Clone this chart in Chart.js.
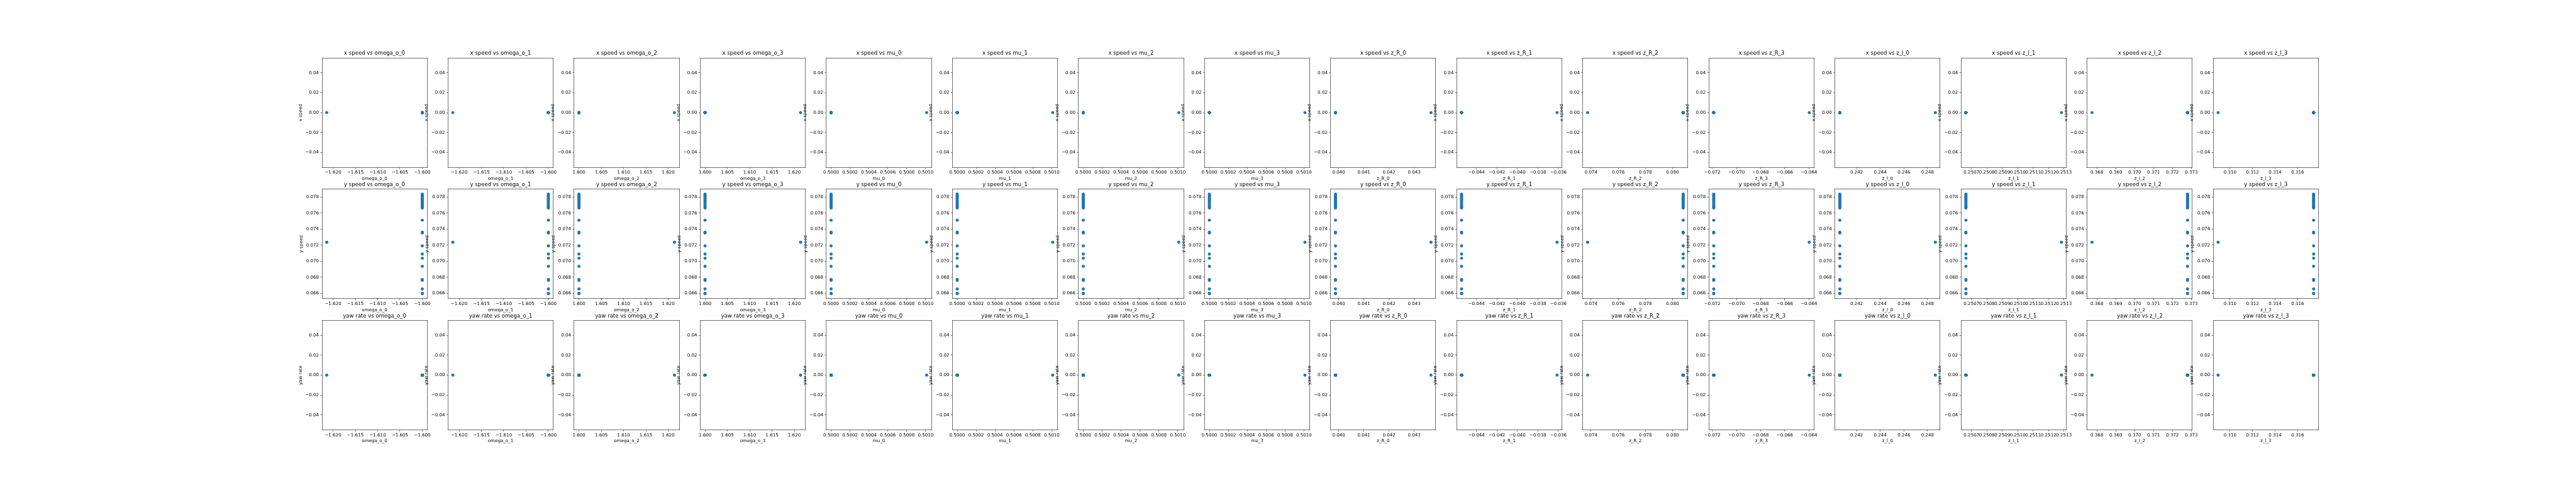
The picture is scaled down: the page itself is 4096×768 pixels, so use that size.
<!DOCTYPE html>
<html>
<head>
<meta charset="utf-8">
<script src="https://cdn.jsdelivr.net/npm/chart.js@4.4.1/dist/chart.umd.min.js"></script>
<style>
html, body { margin: 0; padding: 0; background: #ffffff; }
#wrap { position: relative; width: 4096px; height: 768px; overflow: hidden; background: #ffffff; }
#wrap canvas { position: absolute; }
</style>
</head>
<body>
<div id="wrap"></div>
<script>
// ---------------- data ----------------
const paramNames = ['omega_o_0', 'omega_o_1', 'omega_o_2', 'omega_o_3',
                    'mu_0', 'mu_1', 'mu_2', 'mu_3',
                    'z_R_0', 'z_R_1', 'z_R_2', 'z_R_3',
                    'z_l_0', 'z_l_1', 'z_l_2', 'z_l_3'];
const outputNames = ['x speed', 'y speed', 'yaw rate'];

// parameter values of the two parameter sets used by the samples
const paramSetA = [-1.6214, -1.6214, 1.6214, 1.6214,
                   0.50101, 0.50101, 0.50101, 0.50101,
                   0.04367, -0.03612, 0.07375, -0.06397,
                   0.24866, 0.251284, 0.36774, 0.30894];
const paramSetB = [-1.6000, -1.6000, 1.6000, 1.6000,
                   0.5000, 0.5000, 0.5000, 0.5000,
                   0.03987, -0.04545, 0.08078, -0.07188,
                   0.24058, 0.250664, 0.37280, 0.31742];
// which parameter set each sample used (0 = A, 1 = B)
const sampleParamSet = [0, 1, 1, 1, 1, 1, 1, 1, 1, 1, 1, 1, 1, 1,
                        1, 1, 1, 1, 1, 1, 1, 1, 1, 1, 1, 1, 1, 1];

const xSpeed = [0, 0, 0, 0, 0, 0, 0, 0, 0, 0, 0, 0, 0, 0,
                0, 0, 0, 0, 0, 0, 0, 0, 0, 0, 0, 0, 0, 0];
const ySpeed = [0.07236,
                0.07836, 0.07826, 0.07815, 0.07803, 0.07791, 0.07778, 0.07766,
                0.07752, 0.07740, 0.07727, 0.07712, 0.07698, 0.07685, 0.07672, 0.07663,
                0.07512, 0.07363, 0.07352, 0.07191, 0.07089, 0.07038, 0.06937,
                0.06773, 0.06762, 0.06655, 0.06601, 0.06597];
const yawRate = [0, 0, 0, 0, 0, 0, 0, 0, 0, 0, 0, 0, 0, 0,
                 0, 0, 0, 0, 0, 0, 0, 0, 0, 0, 0, 0, 0, 0];

// tick labels
const xTickLabels = [
  ['\u22121.620', '\u22121.615', '\u22121.610', '\u22121.605', '\u22121.600'],
  ['\u22121.620', '\u22121.615', '\u22121.610', '\u22121.605', '\u22121.600'],
  ['1.600', '1.605', '1.610', '1.615', '1.620'],
  ['1.600', '1.605', '1.610', '1.615', '1.620'],
  ['0.5000', '0.5002', '0.5004', '0.5006', '0.5008', '0.5010'],
  ['0.5000', '0.5002', '0.5004', '0.5006', '0.5008', '0.5010'],
  ['0.5000', '0.5002', '0.5004', '0.5006', '0.5008', '0.5010'],
  ['0.5000', '0.5002', '0.5004', '0.5006', '0.5008', '0.5010'],
  ['0.040', '0.041', '0.042', '0.043'],
  ['\u22120.044', '\u22120.042', '\u22120.040', '\u22120.038', '\u22120.036'],
  ['0.074', '0.076', '0.078', '0.080'],
  ['\u22120.072', '\u22120.070', '\u22120.068', '\u22120.066', '\u22120.064'],
  ['0.242', '0.244', '0.246', '0.248'],
  ['0.2507', '0.2508', '0.2509', '0.2510', '0.2511', '0.2512', '0.2513'],
  ['0.368', '0.369', '0.370', '0.371', '0.372', '0.373'],
  ['0.310', '0.312', '0.314', '0.316']
];
const yTickLabels = [
  ['\u22120.04', '\u22120.02', '0.00', '0.02', '0.04'],
  ['0.066', '0.068', '0.070', '0.072', '0.074', '0.076', '0.078'],
  ['\u22120.04', '\u22120.02', '0.00', '0.02', '0.04']
];

// ---------------- layout / style ----------------
const S = 0.512;
const FIG_LEFT = 1000, FIG_TOP = 180;
const AX_W = 6200 / 19, AX_H = 1155 / 3.4, GAP = 0.2;
const FONT = 'DejaVu Sans';
const TICK_SIZE = 13.889 * S, TITLE_SIZE = 16.667 * S;
const TL = 4.861 * S, LW = 1.111 * S;
const PT_R = 4.86 * S;
const BLUE = '#1f77b4';
const HT = 12.38;      // title band above axes
const HX = 22.27;      // x tick + label band below axes
const WR = 20;         // spare band right of axes
const WY = [38.4, 37.3, 38.4];

const outputs = [xSpeed, ySpeed, yawRate];
const paramSets = [paramSetA, paramSetB];
const toNum = s => parseFloat(s.replace('\u2212', '-'));

function paddedRange(vals) {
  let lo = Math.min(...vals), hi = Math.max(...vals);
  if (hi === lo) { lo -= 0.05; hi += 0.05; }
  const m = (hi - lo) * 0.05;
  return [lo - m, hi + m];
}

const wrap = document.getElementById('wrap');

function makeChart(r, c) {
  const L = (FIG_LEFT + c * AX_W * (1 + GAP)) * S;
  const T = (FIG_TOP + r * AX_H * (1 + GAP)) * S;
  const pw = AX_W * S, ph = AX_H * S;
  const wy = WY[r];
  const cl = Math.floor(L - wy), wyA = L - cl;
  const ct = Math.floor(T - HT), htA = T - ct;
  const cw = Math.ceil(wyA + pw + WR), wrA = cw - wyA - pw;
  const chh = Math.ceil(htA + ph + HX), hxA = chh - htA - ph;

  const canvas = document.createElement('canvas');
  canvas.width = cw; canvas.height = chh;
  canvas.style.left = cl + 'px'; canvas.style.top = ct + 'px';
  canvas.style.width = cw + 'px'; canvas.style.height = chh + 'px';
  wrap.appendChild(canvas);

  const ys = outputs[r];
  const xs = sampleParamSet.map(k => paramSets[k][c]);
  const pts = xs.map((x, i) => ({ x: x, y: ys[i] }));
  const [xmin, xmax] = paddedRange(xs);
  const [ymin, ymax] = paddedRange(ys);
  const xl = xTickLabels[c], yl = yTickLabels[r];
  const xv = xl.map(toNum), yv = yl.map(toNum);

  const tickFont = { family: FONT, size: TICK_SIZE, lineHeight: 1.2 };
  const titleFont = { family: FONT, size: TITLE_SIZE, lineHeight: 1.2 };

  new Chart(canvas, {
    type: 'scatter',
    data: {
      datasets: [{
        data: pts,
        backgroundColor: BLUE,
        borderColor: BLUE,
        borderWidth: 0,
        pointRadius: PT_R,
        pointHoverRadius: PT_R
      }]
    },
    options: {
      responsive: false,
      animation: false,
      devicePixelRatio: 1,
      events: [],
      layout: { padding: 0 },
      plugins: {
        legend: { display: false },
        tooltip: { enabled: false },
        title: { display: false }
      },
      scales: {
        x: {
          type: 'linear', position: 'bottom', bounds: 'data',
          min: xmin, max: xmax,
          afterBuildTicks: s => { s.ticks = xv.map(v => ({ value: v })); },
          afterFit: s => { s.height = hxA; },
          ticks: {
            autoSkip: false, maxRotation: 0, minRotation: 0,
            padding: 1.58, color: '#000', font: tickFont,
            callback: (v, i) => xl[i]
          },
          grid: { display: true, drawOnChartArea: false, drawTicks: true,
                  tickLength: TL, tickWidth: LW, tickColor: '#000' },
          border: { display: true, color: '#000', width: LW },
          title: { display: true, text: paramNames[c], color: '#000', font: tickFont,
                   padding: { top: 0, bottom: hxA - HX } }
        },
        y: {
          type: 'linear', position: 'left', bounds: 'data',
          min: ymin, max: ymax,
          afterBuildTicks: s => { s.ticks = yv.map(v => ({ value: v })); },
          afterFit: s => { s.width = wyA; },
          ticks: {
            autoSkip: false, padding: TL, color: '#000', font: tickFont,
            callback: (v, i) => yl[i]
          },
          grid: { display: true, drawOnChartArea: false, drawTicks: true,
                  tickLength: TL, tickWidth: LW, tickColor: '#000' },
          border: { display: true, color: '#000', width: LW },
          title: { display: true, text: outputNames[r], color: '#000', font: tickFont,
                   padding: { top: wyA - wy, bottom: 0 } }
        },
        x2: {
          type: 'linear', position: 'top', display: true,
          afterFit: s => { s.height = htA; },
          ticks: { display: false },
          grid: { display: false },
          border: { display: true, color: '#000', width: LW },
          title: { display: true, text: outputNames[r] + ' vs ' + paramNames[c],
                   color: '#000', font: titleFont,
                   padding: { top: htA - HT, bottom: 0 } }
        },
        y2: {
          type: 'linear', position: 'right', display: true,
          afterFit: s => { s.width = wrA; },
          ticks: { display: false },
          grid: { display: false },
          border: { display: true, color: '#000', width: LW }
        }
      }
    }
  });
}

for (let r = 0; r < 3; r++) {
  for (let c = 0; c < 16; c++) {
    makeChart(r, c);
  }
}
</script>
</body>
</html>
